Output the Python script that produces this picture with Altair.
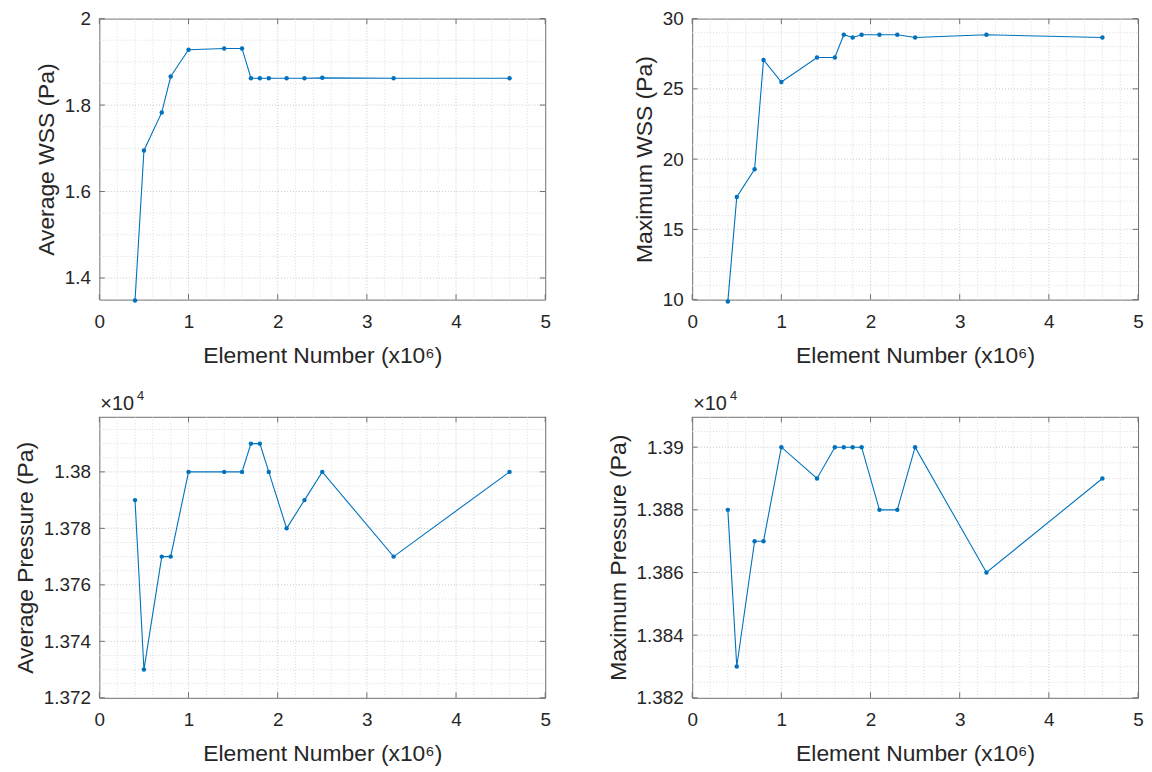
import altair as alt
import pandas as pd

# ---- data ----
elements = [0.4, 0.5, 0.7, 0.8, 1.0, 1.4, 1.6, 1.7, 1.8, 1.9, 2.1, 2.3, 2.5, 3.3, 4.6]
avg_wss = [1.348, 1.695, 1.783, 1.866, 1.928, 1.931, 1.931, 1.862, 1.862, 1.862,
           1.862, 1.862, 1.863, 1.862, 1.862]
max_wss = [9.86, 17.31, 19.28, 27.06, 25.49, 27.23, 27.23, 28.85, 28.66, 28.85,
           28.85, 28.85, 28.66, 28.85, 28.66]
avg_pressure = [13790, 13730, 13770, 13770, 13800, 13800, 13800, 13810, 13810, 13800,
                13780, 13790, 13800, 13770, 13800]
max_pressure = [13880, 13830, 13870, 13870, 13900, 13890, 13900, 13900, 13900, 13900,
                13880, 13880, 13900, 13860, 13890]

# ---- tick / grid positions ----
x_ticks = [0, 1, 2, 3, 4, 5]
x_major_grid = [1, 2, 3, 4]
x_minor_grid = [0.2, 0.4, 0.6, 0.8, 1.2, 1.4, 1.6, 1.8, 2.2, 2.4, 2.6, 2.8,
                3.2, 3.4, 3.6, 3.8, 4.2, 4.4, 4.6, 4.8]

y1_ticks = [1.4, 1.6, 1.8, 2.0]
y1_major_grid = [1.4, 1.6, 1.8]
y1_minor_grid = [1.45, 1.5, 1.55, 1.65, 1.7, 1.75, 1.85, 1.9, 1.95]

y2_ticks = [10, 15, 20, 25, 30]
y2_major_grid = [15, 20, 25]
y2_minor_grid = [11, 12, 13, 14, 16, 17, 18, 19, 21, 22, 23, 24, 26, 27, 28, 29]

y3_ticks = [13720, 13740, 13760, 13780, 13800]
y3_major_grid = [13740, 13760, 13780, 13800]
y3_minor_grid = [13725, 13730, 13735, 13745, 13750, 13755, 13765, 13770, 13775,
                 13785, 13790, 13795, 13805, 13810, 13815]

y4_ticks = [13820, 13840, 13860, 13880, 13900]
y4_major_grid = [13840, 13860, 13880, 13900]
y4_minor_grid = [13825, 13830, 13835, 13845, 13850, 13855, 13865, 13870, 13875,
                 13885, 13890, 13895, 13905]

x_domain = [0, 5]
y1_domain = [1.35, 2.0]
y2_domain = [10, 30]
y3_domain = [13720, 13819.5]
y4_domain = [13820, 13909.7]

x_title = "Element Number (x10⁶)"

BLUE = "#0072BD"
TEXT = "#262626"
BOX = "#707070"
GRID_MAJOR = "#c9c9c9"
GRID_MINOR = "#dcdcdc"
FONT = "Liberation Sans"
W, H = 449, 283
TICK = 5.5


def panel(yvals, ytitle, ydomain, yticks, ymaj, ymin, scaled=False):
    xs = alt.Scale(domain=x_domain, nice=False, zero=False)
    ys = alt.Scale(domain=ydomain, nice=False, zero=False)
    if scaled:
        label_expr = "format(datum.value / 10000, '~g')"
    else:
        label_expr = "format(datum.value, '~g')"
    xaxis = alt.Axis(values=x_ticks, labelExpr="format(datum.value, '~g')",
                     title=x_title, labelPadding=13, titlePadding=13, labelFlush=False)
    yaxis = alt.Axis(values=yticks, labelExpr=label_expr, title=ytitle,
                     labelPadding=9, titlePadding=6, labelFlush=False)

    def X(f):
        return alt.X(f, scale=xs, axis=xaxis)

    def Y(f):
        return alt.Y(f, scale=ys, axis=yaxis)

    layers = []

    def vgrid(vals, color):
        return alt.Chart(pd.DataFrame({"v": vals})).mark_rule(
            color=color, strokeWidth=1, strokeDash=[1, 2]
        ).encode(x=X("v:Q"), y=alt.value(0), y2=alt.value(H))

    def hgrid(vals, color):
        return alt.Chart(pd.DataFrame({"v": vals})).mark_rule(
            color=color, strokeWidth=1, strokeDash=[1, 2]
        ).encode(y=Y("v:Q"), x=alt.value(0), x2=alt.value(W))

    layers += [vgrid(x_minor_grid, GRID_MINOR), hgrid(ymin, GRID_MINOR),
               vgrid(x_major_grid, GRID_MAJOR), hgrid(ymaj, GRID_MAJOR)]

    xt = pd.DataFrame({"v": x_ticks})
    yt = pd.DataFrame({"v": yticks})
    for (a, b) in [(H, H - TICK), (0, TICK)]:
        layers.append(alt.Chart(xt).mark_rule(color=BOX, strokeWidth=1).encode(
            x=X("v:Q"), y=alt.value(a), y2=alt.value(b)))
    for (a, b) in [(0, TICK), (W, W - TICK)]:
        layers.append(alt.Chart(yt).mark_rule(color=BOX, strokeWidth=1).encode(
            y=Y("v:Q"), x=alt.value(a), x2=alt.value(b)))

    df = pd.DataFrame({"x": elements, "y": yvals})
    base = alt.Chart(df).encode(x=X("x:Q"), y=Y("y:Q"))
    layers.append(base.mark_line(color=BLUE, strokeWidth=1.1))
    layers.append(base.mark_point(color=BLUE, filled=True, size=20, opacity=1))

    if scaled:
        layers.append(alt.Chart(pd.DataFrame({"t": ["×10"]})).mark_text(
            align="left", baseline="alphabetic", fontSize=20, font=FONT, color=TEXT
        ).encode(text="t:N", x=alt.value(1), y=alt.value(-7)))
        layers.append(alt.Chart(pd.DataFrame({"t": ["4"]})).mark_text(
            align="left", baseline="alphabetic", fontSize=13, font=FONT, color=TEXT
        ).encode(text="t:N", x=alt.value(38), y=alt.value(-17)))

    return alt.layer(*layers).properties(width=W, height=H)


p1 = panel(avg_wss, "Average WSS (Pa)", y1_domain, y1_ticks, y1_major_grid, y1_minor_grid)
p2 = panel(max_wss, "Maximum WSS (Pa)", y2_domain, y2_ticks, y2_major_grid, y2_minor_grid)
p3 = panel(avg_pressure, "Average Pressure (Pa)", y3_domain, y3_ticks, y3_major_grid,
           y3_minor_grid, scaled=True)
p4 = panel(max_pressure, "Maximum Pressure (Pa)", y4_domain, y4_ticks, y4_major_grid,
           y4_minor_grid, scaled=True)

chart = alt.concat(p1, p2, p3, p4, columns=2, spacing={"row": 21, "column": 55}).properties(
    padding={"left": 5, "top": -2, "right": 0, "bottom": 0},
    background="white",
).configure_view(stroke=BOX, strokeWidth=1).configure_axis(
    labelFont=FONT, titleFont=FONT, labelFontSize=19, titleFontSize=23,
    labelColor=TEXT, titleColor=TEXT, titleFontWeight="normal",
    ticks=False, domain=False, grid=False,
)

chart.save("out.html", embed_options={"renderer": "svg", "actions": False})
